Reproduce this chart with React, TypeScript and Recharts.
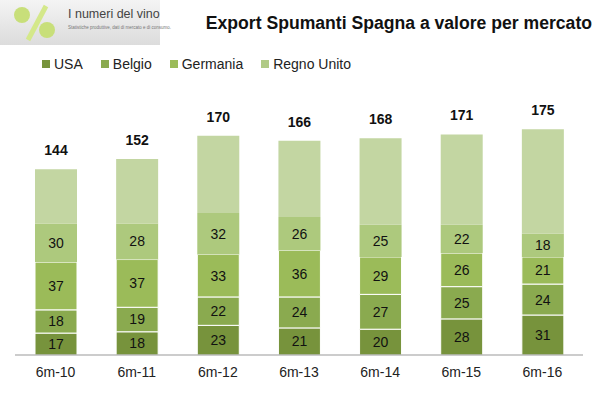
import { BarChart, Bar, XAxis, YAxis, LabelList } from "recharts";

const periods = ["6m-10", "6m-11", "6m-12", "6m-13", "6m-14", "6m-15", "6m-16"];
const usa = [17, 18, 23, 21, 20, 28, 31];
const belgio = [18, 19, 22, 24, 27, 25, 24];
const germania = [37, 37, 33, 36, 29, 26, 21];
const regnoUnito = [30, 28, 32, 26, 25, 22, 18];
const altri = [42, 50, 60, 59, 67, 70, 81];
const totals = [144, 152, 170, 166, 168, 171, 175];

const data = periods.map((p, i) => ({
    period: p,
    usa: usa[i],
    belgio: belgio[i],
    germania: germania[i],
    regnoUnito: regnoUnito[i],
    altri: altri[i],
    total: totals[i],
}));

const legendItems = [
    { name: "USA", color: "#77933c" },
    { name: "Belgio", color: "#8aaa4f" },
    { name: "Germania", color: "#9bbb59" },
    { name: "Regno Unito", color: "#b0ca86" },
];

const font = "'Liberation Sans', Arial, sans-serif";

const TotalLabel = (props: any) => {
    const { x, y, width, index } = props;
    return (
        <text
            x={x + width / 2}
            y={y - 14}
            textAnchor="middle"
            fontFamily={font}
            fontSize={14}
            fontWeight="bold"
            fill="#111"
        >
            {totals[index]}
        </text>
    );
};

const Tick = (props: any) => {
    const { x, y, payload } = props;
    return (
        <text x={x} y={y + 14} textAnchor="middle" fontFamily={font} fontSize={14} fill="#222">
            {payload.value}
        </text>
    );
};

const inner = { fontFamily: font, fontSize: 14, fill: "#111" };

export default function App() {
    return (
        <div style={{ position: "absolute", left: 0, top: 0, width: 598, height: 397, background: "#fff", fontFamily: font }}>
            <div
                style={{
                    position: "absolute",
                    left: 0,
                    top: 0,
                    width: 160,
                    height: 45,
                    background: "linear-gradient(#f4f4f4, #dcdcdc)",
                }}
            >
                <svg width={60} height={45} style={{ position: "absolute", left: 0, top: 0 }}>
                    <line x1={28} y1={40} x2={46} y2={6} stroke="#d4e88a" strokeWidth={5} />
                    <circle cx={22} cy={15} r={8} fill="#c8df7a" />
                    <circle cx={47} cy={30} r={8} fill="#c8df7a" />
                </svg>
                <div style={{ position: "absolute", left: 68, top: 7, fontSize: 12.5, color: "#444", whiteSpace: "nowrap" }}>
                    I numeri del vino
                </div>
                <div style={{ position: "absolute", left: 68, top: 25, fontSize: 4.5, color: "#777", whiteSpace: "nowrap" }}>
                    Statistiche produttive, dati di mercato e di consumo.
                </div>
            </div>
            <div
                style={{
                    position: "absolute",
                    right: 6,
                    top: 13,
                    fontSize: 17.6,
                    fontWeight: "bold",
                    color: "#111",
                    whiteSpace: "nowrap",
                }}
            >
                Export Spumanti Spagna a valore per mercato
            </div>
            <div style={{ position: "absolute", left: 42, top: 56, display: "flex", fontSize: 14, color: "#222" }}>
                {legendItems.map((it) => (
                    <div key={it.name} style={{ display: "flex", alignItems: "center", marginRight: 18 }}>
                        <span style={{ width: 8, height: 8, background: it.color, marginRight: 4, display: "inline-block" }} />
                        {it.name}
                    </div>
                ))}
            </div>
            <div style={{ position: "absolute", left: 0, top: 0 }}>
                <BarChart
                    width={598}
                    height={397}
                    data={data}
                    margin={{ top: 97, right: 15, bottom: 12, left: 15 }}
                    barSize={42}
                >
                    <XAxis
                        dataKey="period"
                        height={30}
                        tickLine={false}
                        axisLine={{ stroke: "#999" }}
                        tick={<Tick />}
                        interval={0}
                    />
                    <YAxis hide domain={[0, 200]} />
                    <Bar dataKey="usa" stackId="a" fill="#77933c" stroke="#fff" isAnimationActive={false}>
                        <LabelList dataKey="usa" position="center" style={inner} />
                    </Bar>
                    <Bar dataKey="belgio" stackId="a" fill="#8aaa4f" stroke="#fff" isAnimationActive={false}>
                        <LabelList dataKey="belgio" position="center" style={inner} />
                    </Bar>
                    <Bar dataKey="germania" stackId="a" fill="#9bbb59" stroke="#fff" isAnimationActive={false}>
                        <LabelList dataKey="germania" position="center" style={inner} />
                    </Bar>
                    <Bar dataKey="regnoUnito" stackId="a" fill="#adc97d" isAnimationActive={false}>
                        <LabelList dataKey="regnoUnito" position="center" style={inner} />
                    </Bar>
                    <Bar dataKey="altri" stackId="a" fill="#c3d6a2" isAnimationActive={false}>
                        <LabelList dataKey="total" content={<TotalLabel />} />
                    </Bar>
                </BarChart>
            </div>
        </div>
    );
}
